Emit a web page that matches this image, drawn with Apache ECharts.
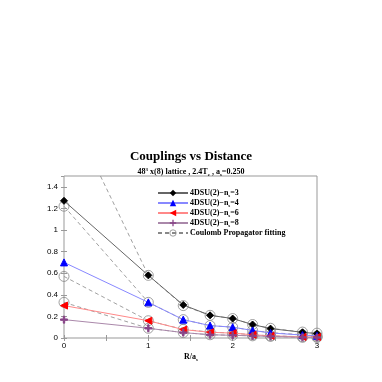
<!DOCTYPE html>
<html><head><meta charset="utf-8">
<script src="https://cdn.jsdelivr.net/npm/echarts@6/dist/echarts.min.js"></script>
<style>html,body{margin:0;padding:0;background:#fff}#c{width:382px;height:382px}</style>
</head><body><div id="c"></div>
<script>
const R = [0, 1, 1.414, 1.732, 2, 2.236, 2.449, 2.828, 3];
const ns3 = [1.27, 0.58, 0.306, 0.21, 0.18, 0.125, 0.087, 0.053, 0.04];
const ns4 = [0.70, 0.33, 0.17, 0.115, 0.10, 0.07, 0.047, 0.027, 0.02];
const ns6 = [0.30, 0.16, 0.078, 0.053, 0.045, 0.03, 0.02, 0.01, 0.01];
const ns8 = [0.17, 0.09, 0.05, 0.03, 0.025, 0.02, 0.015, 0.006, 0.005];
const fit3 = [2.2, 0.58, 0.30, 0.21, 0.18, 0.125, 0.09, 0.055, 0.045];
const fit4 = [1.22, 0.33, 0.17, 0.115, 0.10, 0.07, 0.05, 0.03, 0.02];
const fit6 = [0.57, 0.16, 0.08, 0.055, 0.045, 0.03, 0.02, 0.012, 0.01];
const fit8 = [0.33, 0.09, 0.05, 0.03, 0.025, 0.02, 0.015, 0.006, 0.005];
const xTicks = [0, 1, 2, 3];
const yTicks = [0, 0.2, 0.4, 0.6, 0.8, 1, 1.2, 1.4];

const pts = v => R.map((x, i) => [x, v[i]]);
const serif = '"Liberation Serif","DejaVu Serif",serif';
const FIT = 'Coulomb Propagator fitting';

function dataSeries(name, vals, color, lineColor, symbol, size, rot) {
  return {
    name, type: 'line', data: pts(vals), z: 4,
    symbol, symbolSize: size, symbolRotate: rot || 0,
    lineStyle: {color: lineColor, width: 1},
    itemStyle: {color: color, borderColor: color},
    emphasis: {disabled: true}
  };
}
function fitSeries(vals) {
  return {
    name: FIT, type: 'line', data: pts(vals), z: 3,
    symbol: 'circle', symbolSize: 10,
    lineStyle: {color: '#888', width: 0.8, type: [4, 3]},
    itemStyle: {color: 'rgba(255,255,255,0)', borderColor: '#888', borderWidth: 0.8},
    emphasis: {disabled: true}
  };
}
const plusPath = 'path://M4,0 L6,0 L6,4 L10,4 L10,6 L6,6 L6,10 L4,10 L4,6 L0,6 L0,4 L4,4 Z';

const rich = {
  s: {fontSize: 5, fontFamily: serif, fontWeight: 'bold', padding: [5, 0, 0, 0], color: '#000'},
  t: {fontSize: 8, fontFamily: serif, fontWeight: 'bold', color: '#000'}
};

const chart = echarts.init(document.getElementById('c'), null, {renderer: 'canvas'});
chart.setOption({
  animation: false,
  backgroundColor: '#fff',
  title: [
    {text: 'Couplings vs Distance', left: 'center', top: 145,
     textStyle: {fontFamily: serif, fontWeight: 'bold', fontSize: 13, color: '#000'}},
    {text: '{t|48}{p|3}{t| x(8) lattice , 2.4T}{s|c}{t| , a}{s|s}{t|=0.250}', left: 'center', top: 162,
     textStyle: {rich: Object.assign({}, rich, {
       t: {fontSize: 8, fontFamily: serif, fontWeight: 'bold', color: '#000'},
       p: {fontSize: 5, fontFamily: serif, fontWeight: 'bold', padding: [0, 0, 5, 0], color: '#000'},
       s: {fontSize: 5, fontFamily: serif, fontWeight: 'bold', padding: [5, 0, 0, 0], color: '#000'}
     })}},
    {text: '{t|R/a}{s|s}', left: 'center', top: 347,
     textStyle: {rich: Object.assign({}, rich, {t: {fontSize: 8, fontFamily: serif, fontWeight: 'bold', color: '#000'}})}}
  ],
  legend: {
    left: 152, top: 184, orient: 'vertical', itemGap: 1, itemWidth: 30, itemHeight: 8,
    data: ['ns3', 'ns4', 'ns6', 'ns8',
      {name: FIT, itemStyle: {color: 'rgba(255,255,255,0)', borderColor: '#888', borderWidth: 0.8}}],
    formatter: n => {
      const m = {ns3: 3, ns4: 4, ns6: 6, ns8: 8};
      if (m[n]) return '{t|4DSU(2)\u2212n}{s|s}{t|=' + m[n] + '}';
      return '{t|' + n + '}';
    },
    textStyle: {rich, padding: [0, 0, 0, -3]},
    selectedMode: false
  },
  grid: {left: 64, right: 65, top: 176, bottom: 44, show: true, borderColor: '#999', borderWidth: 1},
  xAxis: [
    {type: 'value', min: 0, max: 3, interval: 0.5, position: 'bottom',
     axisLine: {show: false}, splitLine: {show: false},
     axisTick: {inside: true, length: 3, lineStyle: {color: '#999'}},
     axisLabel: {formatter: v => xTicks.includes(v) ? String(v) : '', fontSize: 8, color: '#000', margin: 4, fontFamily: 'Liberation Sans, sans-serif'}},
    {type: 'value', min: 0, max: 3, interval: 0.5, position: 'top',
     axisLine: {show: false}, splitLine: {show: false}, axisLabel: {show: false},
     axisTick: {inside: true, length: 3, lineStyle: {color: '#999'}}}
  ],
  yAxis: [
    {type: 'value', min: 0, max: 1.5, interval: 0.2, position: 'left',
     axisLine: {show: false}, splitLine: {show: false},
     axisTick: {inside: true, length: 3, lineStyle: {color: '#999'}},
     axisLabel: {showMaxLabel: false, formatter: v => yTicks.includes(+v.toFixed(1)) ? String(+v.toFixed(1)) : '', fontSize: 8, color: '#000', margin: 6, fontFamily: 'Liberation Sans, sans-serif'}},
    {type: 'value', min: 0, max: 1.5, interval: 0.2, position: 'right',
     axisLine: {show: false}, splitLine: {show: false}, axisLabel: {show: false},
     axisTick: {inside: true, length: 3, lineStyle: {color: '#999'}}}
  ],
  series: [
    fitSeries(fit3), fitSeries(fit4), fitSeries(fit6), fitSeries(fit8),
    dataSeries('ns3', ns3, '#000', '#666', 'diamond', 7),
    dataSeries('ns4', ns4, '#0000ff', '#8888ff', 'triangle', 7),
    dataSeries('ns6', ns6, '#ff0000', '#ff8888', 'triangle', 7, 90),
    dataSeries('ns8', ns8, '#884488', '#aa88aa', plusPath, 7)
  ]
});
</script></body></html>
